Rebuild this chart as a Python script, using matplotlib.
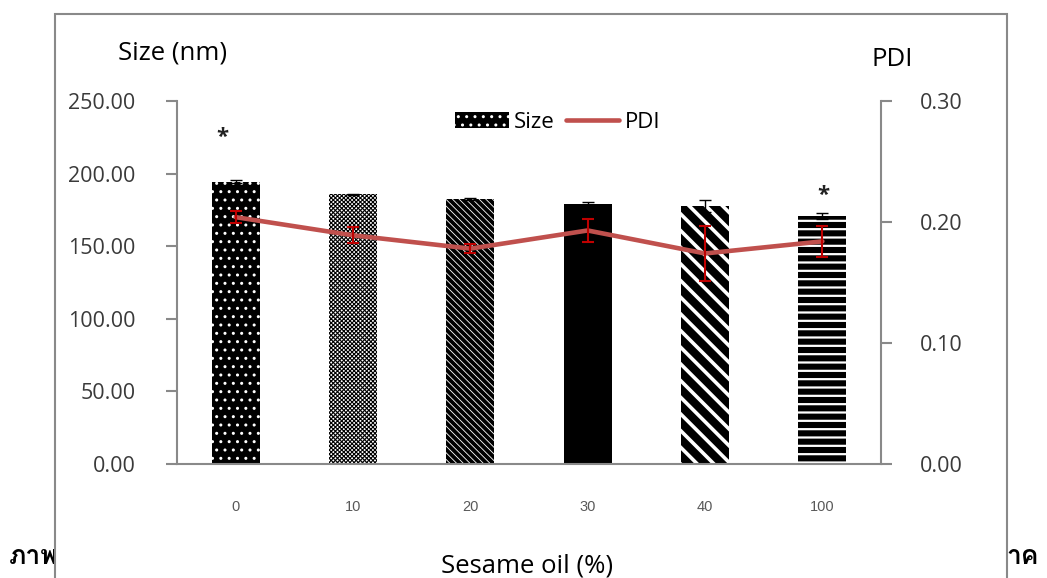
import matplotlib
matplotlib.use("Agg")
import matplotlib.pyplot as plt
import matplotlib.font_manager as fm
from matplotlib.ft2font import FT2Font
from matplotlib.patches import Rectangle
from matplotlib.lines import Line2D
from matplotlib.ticker import FormatStrFormatter

# ---- data ----
categories = ["0", "10", "20", "30", "40", "100"]
size_nm = [194.4, 185.7, 182.5, 179.0, 177.5, 170.6]
size_err = [1.0, 0.5, 0.5, 1.5, 4.0, 2.0]
pdi = [0.204, 0.189, 0.178, 0.193, 0.174, 0.184]
pdi_err = [0.005, 0.0065, 0.0035, 0.0095, 0.0227, 0.0127]
size_ticks = [0, 50, 100, 150, 200, 250]
pdi_ticks = [0.0, 0.1, 0.2, 0.3]
star_marks = [(-0.11, 225.0), (5.01, 185.0)]

W, H = 1047, 578
FONT = "Open Sans"


def fx(px):
    return px / W


def fy(py):
    return 1 - py / H


def font_with(ch):
    for f in fm.fontManager.ttflist:
        try:
            if ord(ch) in FT2Font(f.fname).get_charmap():
                return f.name
        except Exception:
            pass
    return None


thai_font = font_with("ภ")

plt.rcParams["font.family"] = [FONT, "DejaVu Sans"]

fig = plt.figure(figsize=(W / 100, H / 100), dpi=100)
fig.patch.set_facecolor("white")

# caption line behind the chart box
thai_family = [thai_font, "DejaVu Sans"] if thai_font else ["DejaVu Sans"]
fig.text(fx(9), fy(557), "ภาพ", fontsize=19, fontweight="bold",
         family=thai_family, ha="left", va="center", zorder=-5)
fig.text(fx(1006), fy(557), "าค", fontsize=19, fontweight="bold",
         family=thai_family, ha="left", va="center", zorder=-5)

# chart box
fig.patches.append(Rectangle((fx(55), -0.1), fx(1007) - fx(55), fy(14) + 0.1,
                             transform=fig.transFigure, facecolor="white",
                             edgecolor="#898989", linewidth=1.5, zorder=-1))

ax = fig.add_axes([fx(177), fy(464), fx(881) - fx(177), fy(101) - fy(464)])
ax.set_facecolor("none")
x = list(range(len(categories)))

bars = ax.bar(x, size_nm, width=0.41, label="Size", zorder=2)
styles = [
    # face, hatch color, hatch, hatch linewidth
    ("black", "white", "..", 1.0),
    ("white", "black", "xxxxxxxx", 0.8),
    ("black", "white", "\\\\\\\\\\", 0.6),
    ("black", "black", "", 1.0),
    ("black", "white", "\\\\", 2.6),
    ("black", "white", "--", 1.6),
]
for b, (face, hc, hatch, hlw) in zip(bars, styles):
    b.set_facecolor(face)
    b.set_edgecolor(hc)
    b.set_linewidth(0)
    b.set_hatch(hatch)
    try:
        b.set_hatch_linewidth(hlw)
    except AttributeError:
        pass

ax.errorbar(x, size_nm, yerr=size_err, fmt="none", ecolor="black",
            elinewidth=1.0, capsize=4.5, capthick=1.0, zorder=3)

ax.set_xlim(-0.5, len(categories) - 0.5)
ax.set_ylim(0, 250)
ax.set_yticks(size_ticks)
ax.yaxis.set_major_formatter(FormatStrFormatter("%.2f"))
ax.set_xticks(x)
ax.set_xticklabels(categories, fontsize=10.5, color="#595959",
                   family=["Liberation Sans", "DejaVu Sans"])
ax.tick_params(axis="x", length=0, pad=26)
ax.tick_params(axis="y", labelsize=15.5, labelcolor="#3a3a3a", length=8,
               width=1.5, color="#898989", pad=22)
for side in ("top", "right"):
    ax.spines[side].set_visible(False)
for side in ("left", "bottom"):
    ax.spines[side].set_color("#898989")
    ax.spines[side].set_linewidth(1.5)

for xs, yv in star_marks:
    ax.text(xs, yv, "*", fontsize=16, fontweight="bold",
            ha="center", va="center", color="#222222", zorder=4)

ax2 = ax.twinx()
ax2.plot(x, pdi, color="#C0504D", linewidth=3.3, solid_capstyle="round",
         zorder=3, label="PDI")
ax2.errorbar(x, pdi, yerr=pdi_err, fmt="none", ecolor="#C00000",
             elinewidth=1.5, capsize=4.5, capthick=1.5, zorder=4)
ax2.set_ylim(0, 0.30)
ax2.set_yticks(pdi_ticks)
ax2.yaxis.set_major_formatter(FormatStrFormatter("%.2f"))
ax2.tick_params(axis="y", labelsize=15.5, labelcolor="#3a3a3a", length=8,
                width=1.5, color="#898989", pad=20)
for side in ("top", "left", "bottom"):
    ax2.spines[side].set_visible(False)
ax2.spines["right"].set_color("#898989")
ax2.spines["right"].set_linewidth(1.5)

handles = [bars, Line2D([], [], color="#C0504D", linewidth=3.3,
                        solid_capstyle="round")]
leg = ax2.legend(handles, ["Size", "PDI"], ncol=2, frameon=False,
                 loc="center", bbox_to_anchor=(fx(558), fy(122)),
                 bbox_transform=fig.transFigure, fontsize=16,
                 handlelength=2.4, handleheight=0.7, handletextpad=0.25,
                 columnspacing=0.5, borderpad=0)

fig.text(fx(173), fy(53), "Size (nm)", fontsize=18.5, ha="center",
         va="center", color="black")
fig.text(fx(892), fy(60), "PDI", fontsize=18.5, ha="center", va="center",
         color="black")
fig.text(fx(527), fy(566), "Sesame oil (%)", fontsize=18.5, ha="center",
         va="center", color="black")

fig.savefig("out.png", dpi=100)
